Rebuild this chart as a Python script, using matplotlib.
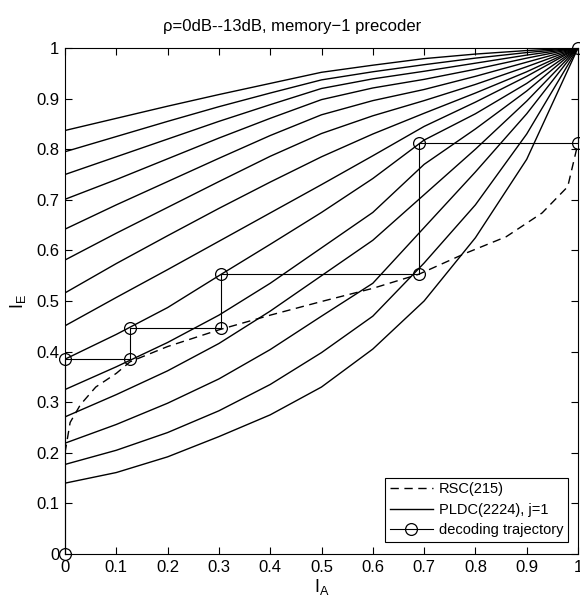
import matplotlib
matplotlib.use("Agg")
import matplotlib.pyplot as plt

plt.rcParams['font.family'] = ['Liberation Sans', 'DejaVu Sans']

# ---- data ----
ia_grid = [0.0, 0.1, 0.2, 0.3, 0.4, 0.5, 0.6, 0.7, 0.8, 0.9, 1.0]

pldc_curves = [
    [0.837, 0.861, 0.885, 0.908, 0.930, 0.952, 0.966, 0.979, 0.988, 0.995, 1.0],
    [0.795, 0.825, 0.855, 0.884, 0.911, 0.937, 0.953, 0.967, 0.980, 0.991, 1.0],
    [0.750, 0.785, 0.820, 0.855, 0.888, 0.920, 0.939, 0.954, 0.970, 0.986, 1.0],
    [0.701, 0.740, 0.781, 0.822, 0.861, 0.898, 0.921, 0.938, 0.958, 0.980, 1.0],
    [0.642, 0.690, 0.736, 0.782, 0.827, 0.868, 0.896, 0.918, 0.944, 0.972, 1.0],
    [0.581, 0.634, 0.685, 0.736, 0.786, 0.831, 0.866, 0.896, 0.928, 0.963, 1.0],
    [0.516, 0.574, 0.629, 0.683, 0.735, 0.785, 0.830, 0.871, 0.911, 0.953, 1.0],
    [0.451, 0.507, 0.562, 0.618, 0.674, 0.730, 0.787, 0.845, 0.893, 0.944, 1.0],
    [0.385, 0.434, 0.487, 0.550, 0.612, 0.675, 0.742, 0.818, 0.870, 0.930, 1.0],
    [0.325, 0.370, 0.418, 0.472, 0.535, 0.605, 0.675, 0.770, 0.840, 0.915, 1.0],
    [0.271, 0.315, 0.362, 0.416, 0.480, 0.550, 0.620, 0.710, 0.800, 0.895, 1.0],
    [0.219, 0.256, 0.298, 0.346, 0.404, 0.470, 0.535, 0.645, 0.755, 0.870, 1.0],
    [0.177, 0.205, 0.240, 0.283, 0.335, 0.398, 0.470, 0.575, 0.690, 0.830, 1.0],
    [0.140, 0.161, 0.192, 0.232, 0.275, 0.330, 0.405, 0.500, 0.625, 0.780, 1.0],
]

rsc_ia = [0.0, 0.01, 0.03, 0.06, 0.10, 0.127, 0.20, 0.30, 0.40, 0.50, 0.60, 0.69, 0.78, 0.86, 0.93, 0.98, 1.0]
rsc_ie = [0.20, 0.26, 0.295, 0.33, 0.357, 0.38, 0.41, 0.443, 0.472, 0.499, 0.525, 0.553, 0.594, 0.627, 0.674, 0.726, 0.812]

traj_ia = [0.0, 0.0, 0.127, 0.127, 0.305, 0.305, 0.69, 0.69, 1.0, 1.0]
traj_ie = [0.0, 0.385, 0.385, 0.447, 0.447, 0.553, 0.553, 0.812, 0.812, 1.0]

ticks = [0, 0.1, 0.2, 0.3, 0.4, 0.5, 0.6, 0.7, 0.8, 0.9, 1]
tick_labels = ['0', '0.1', '0.2', '0.3', '0.4', '0.5', '0.6', '0.7', '0.8', '0.9', '1']

title = "ρ=0dB--13dB, memory\u22121 precoder"
legend_labels = ['RSC(215)', 'PLDC(2224), j=1', 'decoding trajectory']

# ---- figure ----
fig = plt.figure(figsize=(5.8, 6.05), dpi=100)
ax = fig.add_axes([65/580, 51/605, 513/580, 506/605])

h_rsc, = ax.plot(rsc_ia, rsc_ie, color='black', lw=1.0, dashes=(6, 4))
h_pldc = None
for c in pldc_curves:
    h, = ax.plot(ia_grid, c, color='black', lw=1.0)
    if h_pldc is None:
        h_pldc = h
h_traj, = ax.plot(traj_ia, traj_ie, color='black', lw=0.8, marker='o',
                  markersize=8.5, markerfacecolor='none', markeredgewidth=0.9,
                  clip_on=False, zorder=5)

ax.set_xlim(0, 1)
ax.set_ylim(0, 1)
ax.set_xticks(ticks)
ax.set_xticklabels(tick_labels)
ax.set_yticks(ticks)
ax.set_yticklabels(tick_labels)
ax.tick_params(direction='in', length=5, width=0.8, top=True, right=True,
               labelsize=12, pad=4)
for s in ax.spines.values():
    s.set_linewidth(0.8)

ax.set_xlabel(r'I$_\mathregular{A}$', fontsize=13, labelpad=2)
ax.set_ylabel(r'I$_\mathregular{E}$', fontsize=13, labelpad=6)

fig.text(292/580, 1 - 26/605, title, ha='center', va='center', fontsize=12)

leg = ax.legend([h_rsc, h_pldc, h_traj], legend_labels, loc='lower right',
                bbox_to_anchor=(0.9805, 0.0243), fontsize=10.5, handlelength=3.0,
                fancybox=False, framealpha=1, edgecolor='black',
                borderpad=0.3, labelspacing=0.45, handletextpad=0.4,
                borderaxespad=0)
leg.get_frame().set_linewidth(0.8)

fig.savefig('out.png', dpi=100)
